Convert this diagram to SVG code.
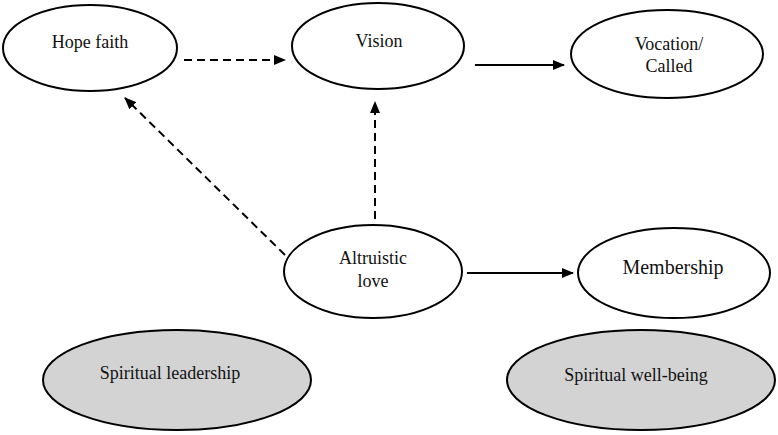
<svg xmlns="http://www.w3.org/2000/svg" width="778" height="435" viewBox="0 0 778 435">
<style>
.n{fill:#fff;stroke:#000;stroke-width:2}
.g{fill:#d3d3d3;stroke:#000;stroke-width:2}
text{font-family:'Liberation Serif','Times New Roman',serif;font-size:18px;fill:#111;text-anchor:middle}
.c{stroke:#000;stroke-width:2;fill:none}
.d{stroke-dasharray:8,5}
</style>
<defs>
<marker id="ah" markerWidth="12" markerHeight="10" refX="11" refY="5" orient="auto" markerUnits="userSpaceOnUse">
<path d="M0,0 L12,5 L0,10 Z" fill="#000"/>
</marker>
</defs>
<g id="connectors">
<line class="c d" x1="184" y1="60" x2="285" y2="60" marker-end="url(#ah)"/>
<line class="c" x1="475" y1="65" x2="564" y2="65" marker-end="url(#ah)"/>
<line class="c d" x1="285" y1="255" x2="125" y2="98" marker-end="url(#ah)"/>
<line class="c d" x1="375" y1="219" x2="375" y2="102" marker-end="url(#ah)"/>
<line class="c" x1="467" y1="273" x2="573" y2="273" marker-end="url(#ah)"/>
</g>
<g font-family="Liberation Serif, Times New Roman, serif">
<g id="hope-faith"><ellipse class="n" cx="90" cy="48" rx="87" ry="43"/><text x="90" y="48">Hope faith</text></g>
<g id="vision"><ellipse class="n" cx="378" cy="46" rx="86" ry="43"/><text x="379" y="47">Vision</text></g>
<g id="vocation"><ellipse class="n" cx="667" cy="54" rx="96" ry="44"/><text x="669" y="50">Vocation/</text><text x="669" y="72">Called</text></g>
<g id="altruistic-love"><ellipse class="n" cx="373" cy="271.5" rx="89" ry="46.5"/><text x="373" y="264">Altruistic</text><text x="373" y="287">love</text></g>
<g id="membership"><ellipse class="n" cx="674" cy="273" rx="96" ry="45"/><text x="673" y="274" style="font-size:20px">Membership</text></g>
<g id="spiritual-leadership"><ellipse class="g" cx="177" cy="380" rx="134" ry="50"/><text x="170" y="379">Spiritual leadership</text></g>
<g id="spiritual-well-being"><ellipse class="g" cx="641" cy="380" rx="134" ry="50"/><text x="636" y="381">Spiritual well-being</text></g>
</g>
</svg>
